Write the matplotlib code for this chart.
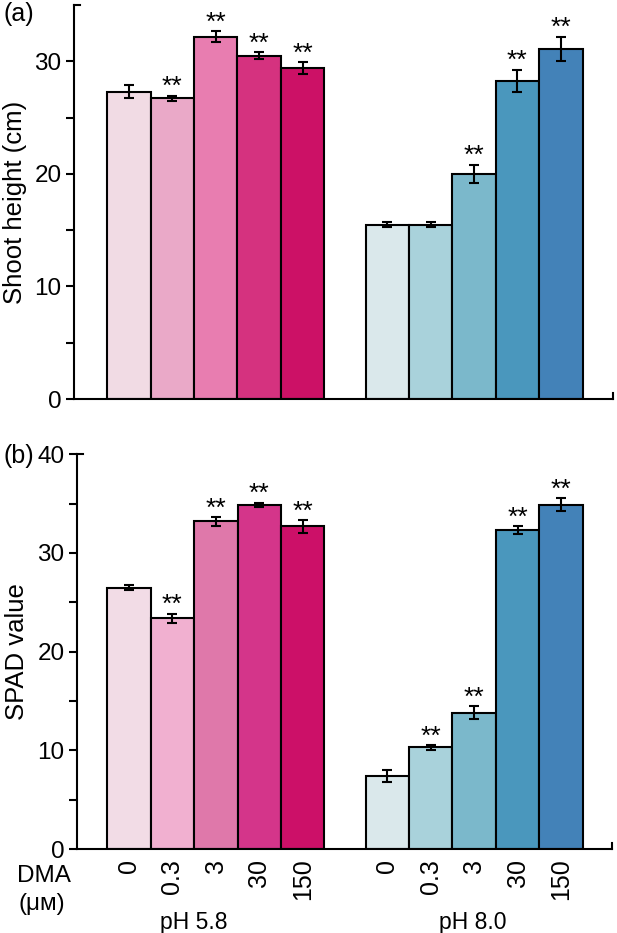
import numpy as np
import matplotlib
matplotlib.use("Agg")
from matplotlib import pyplot as plt

plt.rcParams['font.family'] = ['Liberation Sans', 'DejaVu Sans']

doses = ["0", "0.3", "3", "30", "150"]
groups = ["pH 5.8", "pH 8.0"]

# (a) shoot height, cm
height_58 = [27.3, 26.7, 32.2, 30.5, 29.4]
height_58_err = [0.6, 0.25, 0.5, 0.3, 0.5]
height_80 = [15.5, 15.5, 20.0, 28.25, 31.1]
height_80_err = [0.2, 0.2, 0.8, 1.0, 1.1]
height_58_sig = ["", "**", "**", "**", "**"]
height_80_sig = ["", "", "**", "**", "**"]

# (b) SPAD value
spad_58 = [26.5, 23.4, 33.2, 34.9, 32.7]
spad_58_err = [0.3, 0.45, 0.45, 0.2, 0.65]
spad_80 = [7.4, 10.3, 13.8, 32.3, 34.9]
spad_80_err = [0.6, 0.25, 0.65, 0.4, 0.65]
spad_58_sig = ["", "**", "**", "**", "**"]
spad_80_sig = ["", "**", "**", "**", "**"]

pinks_a = ["#F1DBE4", "#EAA9C8", "#E87DB0", "#D5327F", "#CC1166"]
pinks_b = ["#F2DCE6", "#F1B0D0", "#DF78AA", "#D4358A", "#CC1068"]
blues = ["#DAE8EB", "#A9D2DB", "#7BB8CB", "#4A97BD", "#4382B8"]

x58 = np.arange(5)
x80 = np.arange(5) + 5.95


def panel(ax, v58, e58, s58, v80, e80, s80, pinks, ymax, ystep, xlim):
    for x, v, e, s, cols in ((x58, v58, e58, s58, pinks), (x80, v80, e80, s80, blues)):
        ax.bar(x, v, width=1.0, color=cols, edgecolor="black", linewidth=1.5, zorder=2)
        ax.errorbar(x, v, yerr=e, fmt="none", ecolor="black", elinewidth=1.5,
                    capsize=3.5, capthick=1.5, zorder=3)
        for xi, vi, ei, si in zip(x, v, e, s):
            if si:
                ax.annotate(si, (xi, vi + ei), xytext=(0, -2.5), textcoords="offset points",
                            ha="center", va="bottom", fontsize=19)
    ax.set_xlim(*xlim)
    ax.set_ylim(0, ymax)
    ax.set_yticks(np.arange(0, ymax + 0.1, ystep))
    ax.set_yticks(np.arange(ystep / 2, ymax, ystep), minor=True)
    for side in ("top", "right"):
        ax.spines[side].set_visible(False)
    ax.spines["left"].set_linewidth(1.5)
    ax.spines["bottom"].set_linewidth(1.5)
    ax.tick_params(axis="y", which="both", direction="out", length=6, width=1.5,
                   labelsize=17.5, pad=3)
    # small end caps of the axes
    ax.plot([0, 0.012], [1, 1], transform=ax.transAxes, color="black", lw=1.5, clip_on=False)
    ax.plot([1, 1], [0, 0.015], transform=ax.transAxes, color="black", lw=1.5, clip_on=False)


fig = plt.figure(figsize=(6.17, 9.33), dpi=100)
ax1 = fig.add_axes([74 / 617, 534 / 933, 539 / 617, 394 / 933])
ax2 = fig.add_axes([77 / 617, 84 / 933, 534.7 / 617, 394.7 / 933])

panel(ax1, height_58, height_58_err, height_58_sig, height_80, height_80_err, height_80_sig,
      pinks_a, 35, 10, (-1.267, 11.152))
ax1.set_yticks([0, 10, 20, 30])
ax1.set_yticks([5, 15, 25], minor=True)
ax1.set_xticks([])
ax1.set_ylabel("Shoot height (cm)", fontsize=18.5)
ax1.yaxis.set_label_coords(-0.088, 0.5)

panel(ax2, spad_58, spad_58_err, spad_58_sig, spad_80, spad_80_err, spad_80_sig,
      pinks_b, 40, 10, (-1.198, 11.12))
ax2.set_xticks(np.concatenate([x58, x80]))
ax2.set_xticklabels(doses + doses, rotation=90, fontsize=18)
ax2.tick_params(axis="x", length=0, pad=7)
ax2.set_ylabel("SPAD value", fontsize=18.5)
ax2.yaxis.set_label_coords(-0.089, 0.5)

ax2.text(1.5, -0.187, groups[0], transform=ax2.get_xaxis_transform(),
         ha="center", va="center", fontsize=16.5)
ax2.text(7.93, -0.187, groups[1], transform=ax2.get_xaxis_transform(),
         ha="center", va="center", fontsize=16.5)

fig.text(44 / 617, 1 - 876 / 933, "DMA", ha="center", va="center", fontsize=17.5)
fig.text(42 / 617, 1 - 904 / 933, "(μᴍ)", ha="center", va="center", fontsize=17.5)
fig.text(19 / 617, 1 - 14 / 933, "(a)", ha="center", va="center", fontsize=18)
fig.text(19 / 617, 1 - 456 / 933, "(b)", ha="center", va="center", fontsize=18)

fig.savefig("out.png", dpi=100)
